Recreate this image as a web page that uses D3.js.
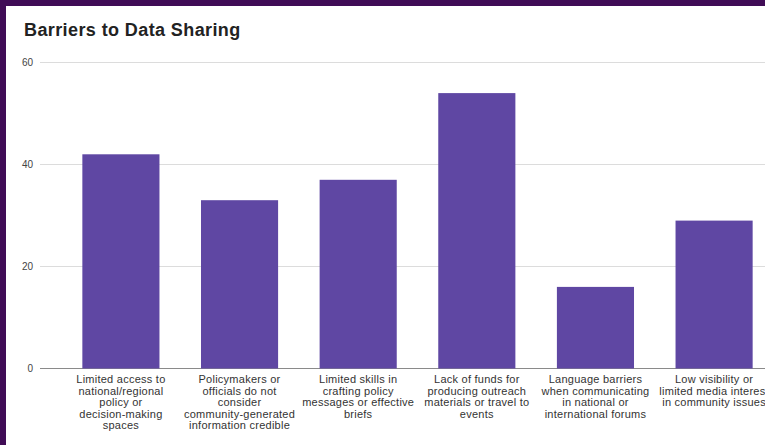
<!DOCTYPE html>
<html>
<head>
<meta charset="utf-8">
<script src="https://cdn.jsdelivr.net/npm/d3@7"></script>
<style>
  html, body { margin: 0; padding: 0; background: #400c56; }
  svg { display: block; }
</style>
</head>
<body>
<svg id="chart" width="765" height="445"></svg>
<script>
// Survey results: barriers respondents face when sharing data
const categories = [
  "Limited access to national/regional policy or decision-making spaces",
  "Policymakers or officials do not consider community-generated information credible",
  "Limited skills in crafting policy messages or effective briefs",
  "Lack of funds for producing outreach materials or travel to events",
  "Language barriers when communicating in national or international forums",
  "Low visibility or limited media interest in community issues"
];
const categoryLines = [
  ["Limited access to", "national/regional", "policy or", "decision-making", "spaces"],
  ["Policymakers or", "officials do not", "consider", "community-generated", "information credible"],
  ["Limited skills in", "crafting policy", "messages or effective", "briefs"],
  ["Lack of funds for", "producing outreach", "materials or travel to", "events"],
  ["Language barriers", "when communicating", "in national or", "international forums"],
  ["Low visibility or", "limited media interest", "in community issues"]
];
const values = [42, 33, 37, 54, 16, 29];
const yTicks = [0, 20, 40, 60];
const title = "Barriers to Data Sharing";

const svg = d3.select("#chart");
const W = 765, H = 445;

// white card framed by the dark purple background
svg.append("rect").attr("x", 0).attr("y", 0).attr("width", W).attr("height", H).attr("fill", "#400c56");
svg.append("rect").attr("x", 6).attr("y", 6).attr("width", W - 6).attr("height", H - 6).attr("fill", "#ffffff");

const font = "'Liberation Sans', Arial, sans-serif";

svg.append("text")
  .attr("x", 24).attr("y", 36)
  .attr("font-family", font).attr("font-weight", "bold").attr("font-size", 18)
  .attr("letter-spacing", 0.4)
  .attr("fill", "#222")
  .text(title);

const x = d3.scaleBand()
  .domain(categories)
  .range([40, 795])
  .paddingInner(0.35)
  .paddingOuter(0.357);

const y = d3.scaleLinear().domain([0, 60]).range([368.5, 62.5]);

// gridlines and value labels
const grid = svg.append("g");
grid.selectAll("line").data(yTicks).join("line")
  .attr("x1", 40).attr("x2", W)
  .attr("y1", d => y(d)).attr("y2", d => y(d))
  .attr("stroke", d => d === 0 ? "#8a8a8a" : "#dcdcdc")
  .attr("stroke-width", 1);
grid.selectAll("text").data(yTicks).join("text")
  .attr("x", 33).attr("y", d => y(d) + 3.5)
  .attr("text-anchor", "end")
  .attr("font-family", font).attr("font-size", 10)
  .attr("fill", "#444")
  .text(d => d);

// bars
svg.append("g").selectAll("rect").data(values).join("rect")
  .attr("x", (d, i) => x(categories[i]))
  .attr("width", x.bandwidth())
  .attr("y", d => y(d))
  .attr("height", d => y(0) - y(d))
  .attr("fill", "#5f47a3");

// wrapped category labels
const labels = svg.append("g");
categories.forEach((c, i) => {
  const t = labels.append("text")
    .attr("x", x(c) + x.bandwidth() / 2)
    .attr("y", 383)
    .attr("text-anchor", "middle")
    .attr("font-family", font).attr("font-size", 11)
    .attr("letter-spacing", 0.25)
    .attr("fill", "#333");
  categoryLines[i].forEach((ln, j) => {
    t.append("tspan")
      .attr("x", x(c) + x.bandwidth() / 2)
      .attr("dy", j === 0 ? 0 : 11.5)
      .text(ln);
  });
});
</script>
</body>
</html>
